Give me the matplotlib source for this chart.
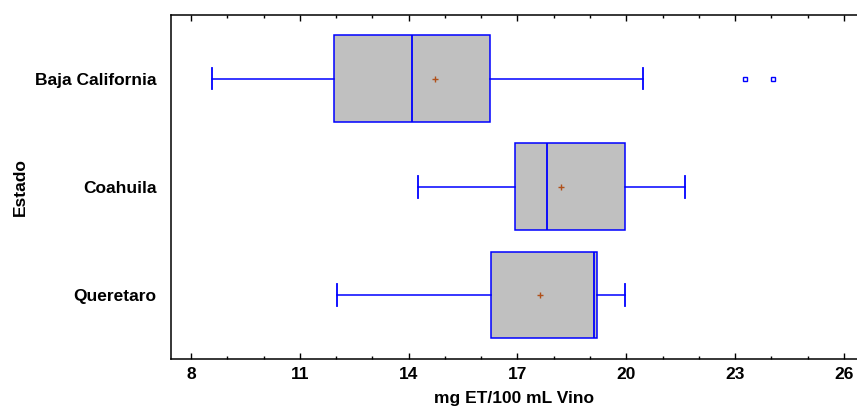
import matplotlib
matplotlib.use("Agg")
import matplotlib.pyplot as plt
from matplotlib.ticker import MultipleLocator

plt.rcParams["font.family"] = ["Liberation Sans", "DejaVu Sans"]
plt.rcParams["font.weight"] = "bold"

estados = ["Queretaro", "Coahuila", "Baja California"]
whislo = [12.02, 14.25, 8.58]
q1 = [16.26, 16.92, 11.93]
med = [19.12, 17.81, 14.10]
mean = [17.63, 18.21, 14.72]
q3 = [19.20, 19.97, 16.23]
whishi = [19.97, 21.61, 20.46]
fliers = [[], [], [23.26, 24.05]]

stats = []
for i in range(len(estados)):
    stats.append(dict(label=estados[i], whislo=whislo[i], q1=q1[i], med=med[i],
                      mean=mean[i], q3=q3[i], whishi=whishi[i], fliers=fliers[i]))

fig = plt.figure(figsize=(8.57, 4.09), dpi=100)
ax = fig.add_axes([171.3 / 857, 1 - 358.7 / 409, 1 - 171.3 / 857, (358.7 - 14.7) / 409])

blue = "#0000FF"
ax.bxp(stats, positions=[0, 1, 2], widths=0.8, capwidths=0.2,
       orientation="horizontal", patch_artist=True, showmeans=True,
       boxprops=dict(facecolor="#C0C0C0", edgecolor=blue, linewidth=1.1),
       medianprops=dict(color=blue, linewidth=1.3),
       whiskerprops=dict(color=blue, linewidth=1.1),
       capprops=dict(color=blue, linewidth=1.3),
       meanprops=dict(marker="+", markeredgecolor="#B0501A", markersize=5, markeredgewidth=1),
       flierprops=dict(marker="s", markerfacecolor="none", markeredgecolor=blue,
                       markersize=3.5, markeredgewidth=1))

ax.set_xlim(7.457, 26.36)
ax.set_ylim(-0.59, 2.59)
ax.xaxis.set_major_locator(MultipleLocator(3))
ax.xaxis.set_minor_locator(MultipleLocator(1))
ax.set_xticks([8, 11, 14, 17, 20, 23, 26])
ax.tick_params(axis="x", which="both", direction="in", top=True, labelsize=12.5, pad=6, width=1)
ax.tick_params(axis="x", which="major", length=4.5)
ax.tick_params(axis="x", which="minor", length=2.2)
ax.tick_params(axis="y", length=0, labelsize=12.5, pad=10.5)
ax.spines["right"].set_visible(False)
for s in ["left", "top", "bottom"]:
    ax.spines[s].set_linewidth(1.1)

ax.set_xlabel("mg ET/100 mL Vino", fontsize=12.5, fontweight="bold", labelpad=6.5)
ax.set_ylabel("Estado", fontsize=12.5, fontweight="bold")
ax.yaxis.set_label_coords(-0.209, 0.5)

fig.savefig("out.png", dpi=100)
